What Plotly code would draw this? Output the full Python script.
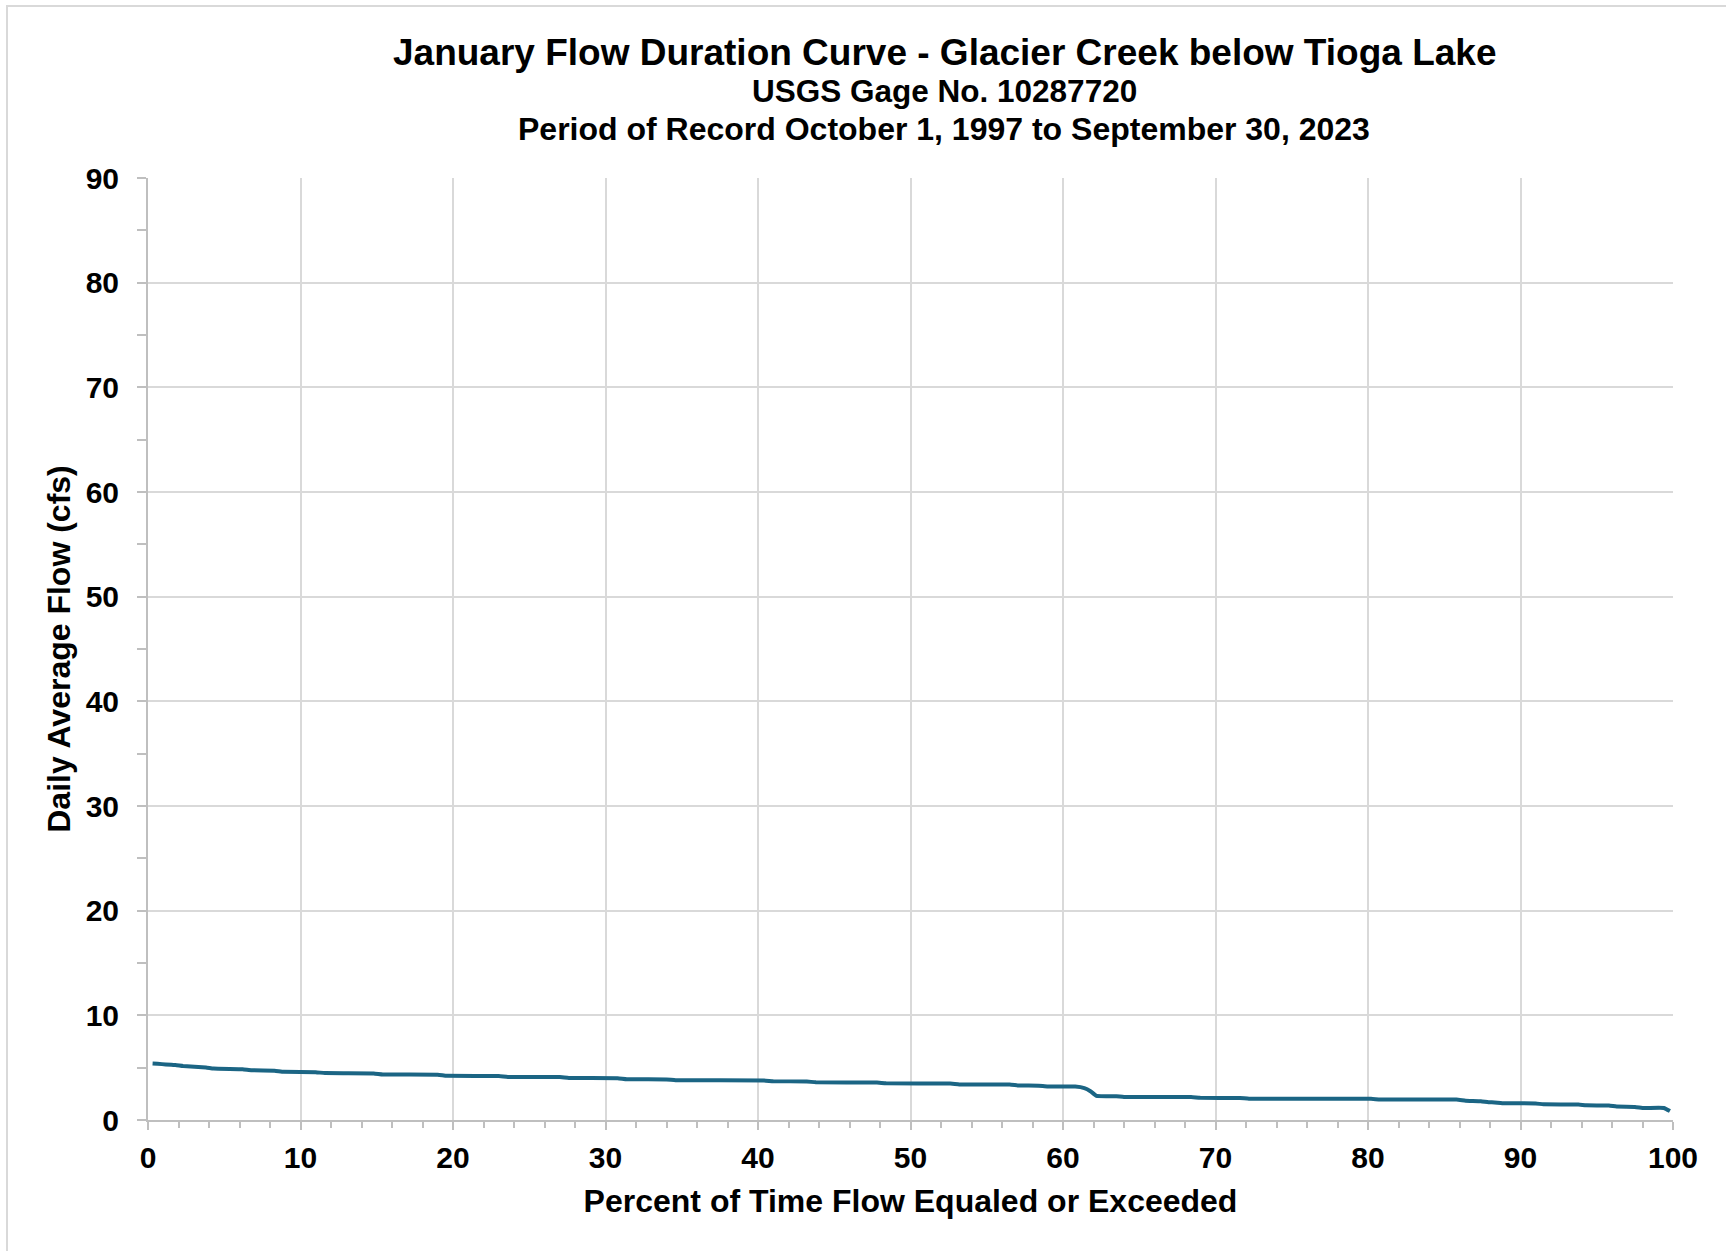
import plotly.graph_objects as go

# Flow duration curve values
percent_exceeded = [0.3, 1.8, 2.3, 3.8, 4.3, 6.2, 6.8, 8.3, 8.9, 11.0, 11.6, 14.8, 15.4, 19.0, 19.6,
                    23.0, 23.6, 27.0, 27.6, 30.8, 31.4, 34.0, 34.6, 40.4, 41.0, 43.2, 43.8, 47.8,
                    48.4, 52.6, 53.2, 56.5, 57.1, 58.4, 59.0, 60.8, 61.4, 61.8, 62.2, 63.5, 64.0,
                    68.4, 69.0, 71.6, 72.2, 80.2, 80.8, 85.8, 86.4, 87.4, 87.9, 88.3, 88.8, 91.0,
                    91.5, 93.8, 94.3, 95.8, 96.3, 97.5, 98.1, 99.4, 99.8]
daily_flow_cfs = [5.40, 5.25, 5.15, 5.02, 4.92, 4.85, 4.76, 4.70, 4.60, 4.57, 4.48, 4.45, 4.35, 4.33,
                  4.22, 4.20, 4.12, 4.10, 4.02, 4.00, 3.90, 3.88, 3.80, 3.78, 3.70, 3.68, 3.60, 3.58,
                  3.50, 3.48, 3.40, 3.38, 3.30, 3.28, 3.20, 3.20, 3.05, 2.75, 2.30, 2.28, 2.20,
                  2.20, 2.12, 2.10, 2.03, 2.03, 1.95, 1.95, 1.85, 1.80, 1.70, 1.68, 1.60, 1.58,
                  1.50, 1.48, 1.40, 1.38, 1.28, 1.25, 1.15, 1.15, 0.85]

x_ticks = [0, 10, 20, 30, 40, 50, 60, 70, 80, 90, 100]
y_ticks = [0, 10, 20, 30, 40, 50, 60, 70, 80, 90]

title_lines = ["January Flow Duration Curve - Glacier Creek below Tioga Lake",
               "USGS Gage No. 10287720",
               "Period of Record October 1, 1997 to September 30, 2023"]

FONT = "Liberation Sans, Arial, sans-serif"
W, H = 1726, 1251
L, R, T, B = 148, 53, 178, 131
PW, PH = W - L - R, H - T - B

fig = go.Figure()
fig.add_trace(go.Scatter(x=percent_exceeded, y=daily_flow_cfs, mode="lines",
                         line=dict(color="#1B6584", width=4, shape="spline", smoothing=0.3),
                         showlegend=False))

tick_font = dict(family=FONT, size=30, color="#000000", weight="bold")
title_font = dict(family=FONT, size=32, color="#000000", weight="bold")

axis_common = dict(showline=True, linecolor="#BFBFBF", linewidth=2, showgrid=True,
                   gridcolor="#D9D9D9", gridwidth=1.5, zeroline=False, ticks="outside",
                   tickcolor="#BFBFBF", tickwidth=2, tickfont=tick_font)

fig.update_xaxes(range=[0, 100], tickvals=x_ticks, ticklen=8, ticklabelstandoff=2,
                 minor=dict(dtick=2, ticks="outside", ticklen=6, tickcolor="#BFBFBF",
                            tickwidth=2, showgrid=False),
                 title=dict(text="Percent of Time Flow Equaled or Exceeded",
                            font=title_font, standoff=17),
                 **axis_common)
fig.update_yaxes(range=[0, 90], tickvals=y_ticks, ticklen=9, ticklabelstandoff=12,
                 minor=dict(dtick=5, ticks="outside", ticklen=9, tickcolor="#BFBFBF",
                            tickwidth=2, showgrid=False),
                 title=dict(text="Daily Average Flow (cfs)", font=title_font, standoff=5),
                 **axis_common)


def py(ypx):
    return (H - B - ypx) / PH


def px(xpx):
    return (xpx - L) / PW


sizes = [37, 31.5, 32]
centers = [53, 91, 129]
for txt, sz, cy in zip(title_lines, sizes, centers):
    fig.add_annotation(text=txt, x=px(944), y=py(cy), xref="paper", yref="paper",
                       xanchor="center", yanchor="middle", showarrow=False,
                       font=dict(family=FONT, size=sz, color="#000000", weight="bold"))

# outer chart border (left and top visible)
fig.add_shape(type="rect", xref="paper", yref="paper", x0=px(7), x1=px(W + 20), y0=py(6),
              y1=py(H + 20), line=dict(color="#D9D9D9", width=2), layer="below")

fig.update_layout(width=W, height=H, margin=dict(l=L, r=R, t=T, b=B, autoexpand=False),
                  paper_bgcolor="#FFFFFF", plot_bgcolor="#FFFFFF",
                  font=dict(family=FONT, color="#000000"))

fig.write_html("out.html")
